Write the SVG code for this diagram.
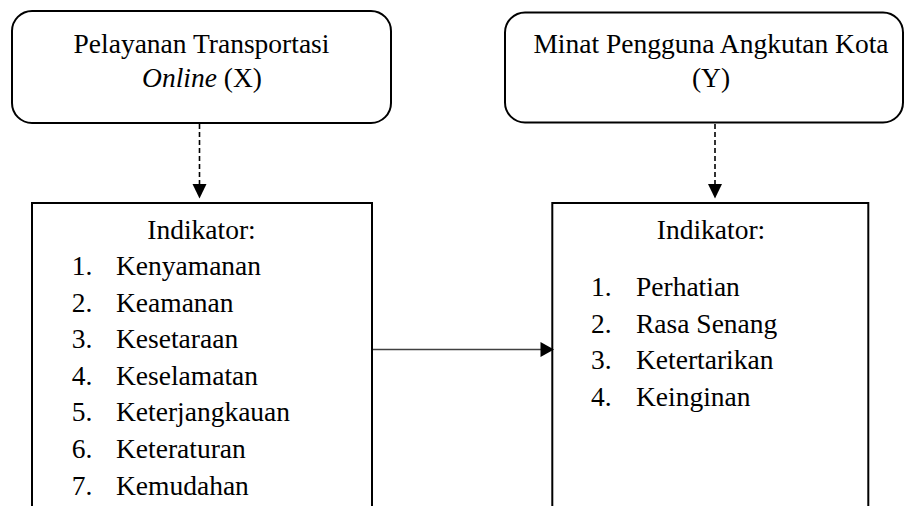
<svg xmlns="http://www.w3.org/2000/svg" width="905" height="506" viewBox="0 0 905 506">
<style>
.box{fill:#fff;stroke:#000;stroke-width:2}
.t{font-family:"Liberation Serif","Times New Roman",serif;font-size:27.5px;fill:#000}
.c{text-anchor:middle}
.dash{stroke:#000;stroke-width:1.6;stroke-dasharray:5 3;fill:none}
.solid{stroke:#404040;stroke-width:1.5;fill:none}
.head{fill:#000}
</style>
<rect width="905" height="506" fill="#fff"/>
<g id="node-x">
<rect class="box" x="12" y="11" width="379" height="112" rx="20" ry="20"/>
<text class="t c" x="201.5" y="53">Pelayanan Transportasi</text>
<text class="t c" x="202" y="87"><tspan font-style="italic">Online</tspan> (X)</text>
</g>
<g id="node-y">
<rect class="box" x="505" y="12.5" width="398" height="110" rx="20" ry="20"/>
<text class="t c" x="711" y="53">Minat Pengguna Angkutan Kota</text>
<text class="t c" x="711" y="87">(Y)</text>
</g>
<g id="node-x-ind">
<rect class="box" x="32" y="203" width="340" height="320"/>
<text class="t c" x="201.5" y="239.3">Indikator:</text>
<text class="t" x="71.7" y="275">1.</text><text class="t" x="116" y="275">Kenyamanan</text>
<text class="t" x="71.7" y="311.6">2.</text><text class="t" x="116" y="311.6">Keamanan</text>
<text class="t" x="71.7" y="348.2">3.</text><text class="t" x="116" y="348.2">Kesetaraan</text>
<text class="t" x="71.7" y="384.8">4.</text><text class="t" x="116" y="384.8">Keselamatan</text>
<text class="t" x="71.7" y="421.4">5.</text><text class="t" x="116" y="421.4">Keterjangkauan</text>
<text class="t" x="71.7" y="458">6.</text><text class="t" x="116" y="458">Keteraturan</text>
<text class="t" x="71.7" y="494.6">7.</text><text class="t" x="116" y="494.6">Kemudahan</text>
</g>
<g id="node-y-ind">
<rect class="box" x="552.3" y="203" width="316" height="320"/>
<text class="t c" x="711" y="239.3">Indikator:</text>
<text class="t" x="591" y="296">1.</text><text class="t" x="636" y="296">Perhatian</text>
<text class="t" x="591" y="332.7">2.</text><text class="t" x="636" y="332.7">Rasa Senang</text>
<text class="t" x="591" y="369.4">3.</text><text class="t" x="636" y="369.4">Ketertarikan</text>
<text class="t" x="591" y="406.1">4.</text><text class="t" x="636" y="406.1">Keinginan</text>
</g>
<g id="connectors">
<line class="dash" x1="199.5" y1="124" x2="199.5" y2="185"/>
<polygon class="head" points="192.5,184 206.5,184 199.5,198.5"/>
<line class="dash" x1="715" y1="124" x2="715" y2="185"/>
<polygon class="head" points="708,184 722,184 715,198.5"/>
<line class="solid" x1="373" y1="349.5" x2="542" y2="349.5"/>
<polygon class="head" points="540.5,342 554,349.5 540.5,357"/>
</g>
</svg>
